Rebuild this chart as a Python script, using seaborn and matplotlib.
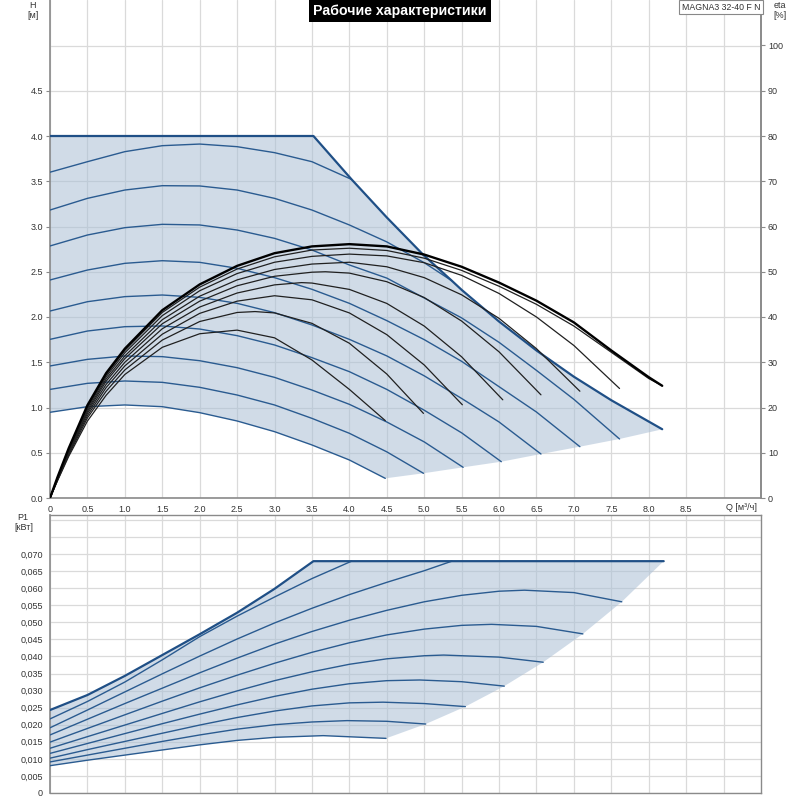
import matplotlib
matplotlib.use("Agg")
import matplotlib.pyplot as plt
import seaborn as sns
import numpy as np

sns.set_style("white")
plt.rcParams['font.family'] = ['Liberation Sans', 'DejaVu Sans']

# ---------------- data: H(Q) curves [m] ----------------
q_max = [0, 3.52, 4.03, 4.5, 4.99, 5.37, 5.5, 6.0, 6.5, 7.0, 7.5, 8.18]
h_max = [4.0, 4.0, 3.52, 3.10, 2.685, 2.40, 2.30, 1.95, 1.63, 1.34, 1.08, 0.76]

q_a = [0, 0.5, 1, 1.5, 2, 2.5, 3, 3.5, 4.03]
h_a = [3.60, 3.716, 3.827, 3.893, 3.911, 3.882, 3.816, 3.716, 3.52]
q_b = [0, 0.5, 1, 1.5, 2, 2.5, 3, 3.5, 4, 4.5, 5, 5.37]
h_b = [3.182, 3.311, 3.403, 3.451, 3.448, 3.403, 3.311, 3.182, 3.017, 2.83, 2.60, 2.40]
q_c = [0, 0.5, 1, 1.5, 2, 2.5, 3, 3.5, 4, 4.5, 5, 5.5, 6, 6.5, 7, 7.61]
h_c = [2.785, 2.906, 2.987, 3.024, 3.017, 2.961, 2.869, 2.74, 2.575, 2.43, 2.21, 1.99, 1.72, 1.41, 1.09, 0.652]
q_d = [0, 0.5, 1, 1.5, 2, 2.5, 3, 3.5, 4, 4.5, 5, 5.5, 6, 6.5, 7.08]
h_d = [2.409, 2.519, 2.593, 2.622, 2.604, 2.538, 2.435, 2.306, 2.151, 1.96, 1.75, 1.51, 1.23, 0.95, 0.567]
q_e = [0, 0.5, 1, 1.5, 2, 2.5, 3, 3.5, 4, 4.5, 5, 5.5, 6, 6.56]
h_e = [2.066, 2.169, 2.225, 2.243, 2.217, 2.151, 2.048, 1.912, 1.753, 1.57, 1.35, 1.10, 0.84, 0.486]
q_f = [0, 0.5, 1, 1.5, 2, 2.5, 3, 3.5, 4, 4.5, 5, 5.5, 6.03]
h_f = [1.753, 1.845, 1.893, 1.901, 1.867, 1.794, 1.691, 1.551, 1.396, 1.20, 0.97, 0.72, 0.401]
q_g = [0, 0.5, 1, 1.5, 2, 2.5, 3, 3.5, 4, 4.5, 5, 5.52]
h_g = [1.459, 1.532, 1.569, 1.562, 1.517, 1.44, 1.333, 1.193, 1.035, 0.84, 0.62, 0.339]
q_h = [0, 0.5, 1, 1.5, 2, 2.5, 3, 3.5, 4, 4.5, 4.99]
h_h = [1.20, 1.267, 1.293, 1.278, 1.223, 1.138, 1.028, 0.88, 0.715, 0.51, 0.273]
q_i = [0, 0.5, 1, 1.5, 2, 2.5, 3, 3.5, 4, 4.48]
h_i = [0.947, 1.009, 1.028, 1.009, 0.943, 0.851, 0.733, 0.586, 0.42, 0.217]

# lower edge of operating area (curve end points)
q_low = [8.18, 7.61, 7.08, 6.56, 6.03, 5.52, 4.99, 4.48]
h_low = [0.759, 0.652, 0.567, 0.486, 0.401, 0.339, 0.273, 0.217]

# ---------------- data: eta(Q) curves [%] ----------------
qe_max = [0, 0.1, 0.25, 0.5, 0.75, 1, 1.5, 2, 2.5, 3, 3.5, 4, 4.5, 5, 5.5, 6, 6.5, 7, 7.5, 8, 8.18]
e_max = [0, 4.6, 11.0, 20.5, 27.6, 33.0, 41.5, 47.2, 51.3, 54.1, 55.6, 56.1, 55.6, 53.8, 51.1, 47.6, 43.6, 38.8, 32.6, 26.7, 24.8]
qe_b = [0, 0.1, 0.25, 0.5, 0.75, 1, 1.5, 2, 2.5, 3, 3.5, 4, 4.5, 5, 5.5, 6, 6.5, 7, 7.5, 8, 8.18]
e_b = [0, 4.5, 10.8, 20.2, 27.2, 32.6, 41.0, 46.6, 50.6, 53.3, 54.8, 55.2, 54.7, 53.0, 50.3, 46.8, 42.8, 38.0, 32.2, 26.4, 24.8]
qe_c = [0, 0.1, 0.25, 0.5, 0.75, 1, 1.5, 2, 2.5, 3, 3.5, 4, 4.5, 5, 5.5, 6, 6.5, 7, 7.61]
e_c = [0, 4.4, 10.6, 19.9, 26.8, 32.1, 40.3, 45.8, 49.6, 52.1, 53.4, 53.9, 53.5, 52.0, 49.2, 45.2, 40.0, 33.7, 24.2]
qe_d = [0, 0.1, 0.25, 0.5, 0.75, 1, 1.5, 2, 2.5, 3, 3.5, 4, 4.5, 5, 5.5, 6, 6.5, 7.08]
e_d = [0, 4.3, 10.4, 19.5, 26.3, 31.4, 39.4, 44.6, 48.2, 50.5, 51.7, 52.1, 51.1, 48.7, 44.9, 39.7, 33.0, 23.6]
qe_e = [0, 0.1, 0.25, 0.5, 0.75, 1, 1.5, 2, 2.5, 3, 3.5, 3.68, 4, 4.5, 5, 5.5, 6, 6.56]
e_e = [0, 4.2, 10.2, 19.1, 25.8, 30.8, 38.5, 43.5, 46.9, 49.0, 49.9, 50.0, 49.7, 47.8, 44.3, 39.1, 32.3, 22.8]
qe_f = [0, 0.1, 0.25, 0.5, 0.75, 1, 1.5, 2, 2.5, 3, 3.36, 3.5, 4, 4.5, 5, 5.5, 6.05]
e_f = [0, 4.1, 10.0, 18.7, 25.1, 30.0, 37.4, 42.2, 45.3, 47.1, 47.6, 47.5, 46.1, 43.0, 38.0, 31.2, 21.7]
qe_g = [0, 0.1, 0.25, 0.5, 0.75, 1, 1.5, 2, 2.5, 3, 3.5, 4, 4.5, 5, 5.51]
e_g = [0, 4.0, 9.8, 18.2, 24.4, 29.2, 36.2, 40.8, 43.5, 44.7, 43.8, 40.9, 36.1, 29.4, 20.6]
qe_h = [0, 0.1, 0.25, 0.5, 0.75, 1, 1.5, 2, 2.5, 2.74, 3, 3.5, 4, 4.5, 4.99]
e_h = [0, 3.9, 9.5, 17.7, 23.6, 28.3, 34.9, 39.0, 41.0, 41.2, 40.9, 38.6, 34.2, 27.4, 18.7]
qe_i = [0, 0.1, 0.25, 0.5, 0.75, 1, 1.5, 2, 2.5, 3, 3.5, 4, 4.48]
e_i = [0, 3.8, 9.2, 17.0, 22.7, 27.3, 33.3, 36.3, 37.1, 35.4, 30.5, 24.0, 17.1]

# ---------------- data: P1(Q) curves [kW] ----------------
qp_max = [0, 0.5, 1, 1.5, 2, 2.5, 3, 3.52, 8.2]
p_max = [0.0243, 0.0287, 0.0343, 0.0404, 0.0465, 0.0528, 0.0598, 0.0679, 0.0679]
qp_a = [0, 0.5, 1, 1.5, 2, 2.5, 3, 3.5, 4.03]
p_a = [0.0217, 0.0268, 0.0325, 0.0390, 0.0458, 0.0518, 0.0574, 0.0628, 0.0679]
qp_b = [0, 0.5, 1, 1.5, 2, 2.5, 3, 3.5, 4, 4.5, 5, 5.37]
p_b = [0.0191, 0.0243, 0.0296, 0.0349, 0.0401, 0.0451, 0.0498, 0.0541, 0.0581, 0.0617, 0.0651, 0.0679]
qp_c = [0, 0.5, 1, 1.5, 2, 2.5, 3, 3.5, 4, 4.5, 5, 5.5, 6, 6.34, 7, 7.64]
p_c = [0.0170, 0.0216, 0.0262, 0.0307, 0.0352, 0.0395, 0.0436, 0.0473, 0.0506, 0.0535, 0.0560, 0.0579, 0.0591, 0.0594, 0.0587, 0.0560]
qp_d = [0, 0.5, 1, 1.5, 2, 2.5, 3, 3.5, 4, 4.5, 5, 5.5, 5.9, 6.5, 7.12]
p_d = [0.0149, 0.0189, 0.0229, 0.0269, 0.0308, 0.0345, 0.0380, 0.0412, 0.0440, 0.0463, 0.0480, 0.0491, 0.0494, 0.0488, 0.0466]
qp_e = [0, 0.5, 1, 1.5, 2, 2.5, 3, 3.5, 4, 4.5, 5, 5.26, 6, 6.59]
p_e = [0.0131, 0.0165, 0.0199, 0.0233, 0.0267, 0.0299, 0.0329, 0.0355, 0.0377, 0.0393, 0.0402, 0.0404, 0.0398, 0.0383]
qp_f = [0, 0.5, 1, 1.5, 2, 2.5, 3, 3.5, 4, 4.5, 4.94, 5.5, 6.07]
p_f = [0.0116, 0.0145, 0.0174, 0.0203, 0.0231, 0.0258, 0.0283, 0.0304, 0.0320, 0.0329, 0.0331, 0.0326, 0.0313]
qp_g = [0, 0.5, 1, 1.5, 2, 2.5, 3, 3.5, 4, 4.45, 5, 5.55]
p_g = [0.0102, 0.0127, 0.0151, 0.0175, 0.0199, 0.0221, 0.0240, 0.0255, 0.0264, 0.0266, 0.0262, 0.0253]
qp_h = [0, 0.5, 1, 1.5, 2, 2.5, 3, 3.5, 3.97, 4.5, 5.02]
p_h = [0.0091, 0.0111, 0.0131, 0.0151, 0.0170, 0.0187, 0.0200, 0.0208, 0.0212, 0.0210, 0.0202]
qp_i = [0, 0.5, 1, 1.5, 2, 2.5, 3, 3.65, 4.49]
p_i = [0.0080, 0.0096, 0.0111, 0.0126, 0.0141, 0.0154, 0.0163, 0.0168, 0.0160]

qp_low = [8.2, 7.64, 7.12, 6.59, 6.07, 5.55, 5.02, 4.49]
pp_low = [0.0679, 0.0560, 0.0466, 0.0383, 0.0313, 0.0253, 0.0202, 0.0160]

h_ticks = [0.0, 0.5, 1.0, 1.5, 2.0, 2.5, 3.0, 3.5, 4.0, 4.5]
eta_ticks = [0, 10, 20, 30, 40, 50, 60, 70, 80, 90, 100]
q_ticks = [0, 0.5, 1.0, 1.5, 2.0, 2.5, 3.0, 3.5, 4.0, 4.5, 5.0, 5.5, 6.0, 6.5, 7.0, 7.5, 8.0, 8.5]
p_ticks = [0, 0.005, 0.010, 0.015, 0.020, 0.025, 0.030, 0.035, 0.040, 0.045, 0.050, 0.055, 0.060, 0.065, 0.070]

# ---------------- styles ----------------
BLUE = '#2a5b90'
FILL = '#aabfd5'
GRID = '#dadada'
SPINE = '#8a8a8a'
TXT = '#333333'
FS = 6.5

fig = plt.figure(figsize=(8, 8), dpi=100)
L, W = 50/800, 711/800
ax1 = fig.add_axes([L, 1-498/800, W, 498/800])
ax3 = fig.add_axes([L, 7/800, W, 278/800])

XMAX = 9.5
HMAX = 498/90.5
PMAX = (793-515)/239*0.07

# ----- top panel -----
ax1.set_xlim(0, XMAX)
ax1.set_ylim(0, HMAX)
ax1.set_axisbelow(True)
ax1.set_xticks(q_ticks)
ax1.set_xticklabels(["0"] + [f"{v:.1f}" for v in q_ticks[1:]])
ax1.set_yticks(h_ticks)
ax1.set_yticklabels([f"{v:.1f}" for v in h_ticks])
ax1.grid(True, color=GRID, lw=0.9)
ax1.axhline(5.0, color=GRID, lw=0.9, zorder=0)
ax1.axvline(9.0, color=GRID, lw=0.9, zorder=0)
ax1.spines['top'].set_visible(False)
for s in ['left', 'bottom', 'right']:
    ax1.spines[s].set_color(SPINE)
    ax1.spines[s].set_linewidth(1.2)
ax1.tick_params(axis='both', labelsize=FS, colors=TXT, length=3, width=0.8, pad=2, color=SPINE)
ax1.tick_params(axis='x', pad=3, length=2)

poly_q = q_max + q_low + q_i[::-1]
poly_h = h_max + h_low + h_i[::-1]
ax1.fill(poly_q, poly_h, color=FILL, alpha=0.55, lw=0, zorder=1)

for q, h in [(q_a, h_a), (q_b, h_b), (q_c, h_c), (q_d, h_d), (q_e, h_e),
             (q_f, h_f), (q_g, h_g), (q_h, h_h), (q_i, h_i)]:
    sns.lineplot(x=q, y=h, ax=ax1, color=BLUE, lw=1.0, sort=False, estimator=None, zorder=3)
sns.lineplot(x=q_max, y=h_max, ax=ax1, color='#1f4f86', lw=1.6, sort=False, estimator=None, zorder=4)
ax1.set_xlabel("")
ax1.set_ylabel("")

ax2 = ax1.twinx()
ax2.set_ylim(0, HMAX*20)
ax2.set_yticks(eta_ticks)
ax2.set_yticklabels([str(v) for v in eta_ticks])
ax2.tick_params(axis='y', labelsize=FS, colors=TXT, length=3, width=0.8, pad=2, color=SPINE)
for s in ['top', 'left', 'bottom']:
    ax2.spines[s].set_visible(False)
ax2.spines['right'].set_color(SPINE)
ax2.spines['right'].set_linewidth(1.2)
for q, e in [(qe_b, e_b), (qe_c, e_c), (qe_d, e_d), (qe_e, e_e), (qe_f, e_f),
             (qe_g, e_g), (qe_h, e_h), (qe_i, e_i)]:
    sns.lineplot(x=q, y=e, ax=ax2, color='#202020', lw=0.9, sort=False, estimator=None)
sns.lineplot(x=qe_max, y=e_max, ax=ax2, color='black', lw=1.7, sort=False, estimator=None)
ax2.set_ylabel("")

# ----- bottom panel -----
ax3.set_xlim(0, XMAX)
ax3.set_ylim(0, PMAX)
ax3.set_axisbelow(True)
ax3.set_xticks(np.arange(0, 9.01, 0.5))
ax3.set_xticklabels([])
ax3.set_yticks(np.arange(0, 0.0801, 0.005))
ax3.set_yticklabels(["0"] + [f"{v:.3f}".replace('.', ',') for v in p_ticks[1:]] + ["", ""])
ax3.grid(True, color=GRID, lw=0.9)
for s in ax3.spines.values():
    s.set_color(SPINE)
    s.set_linewidth(1.0)
ax3.spines['left'].set_linewidth(1.2)
ax3.tick_params(axis='y', labelsize=FS, colors=TXT, length=3, width=0.8, pad=2, color=SPINE)
ax3.tick_params(axis='x', length=0)

ppoly_q = qp_max + qp_low + qp_i[::-1]
ppoly_p = p_max + pp_low + p_i[::-1]
ax3.fill(ppoly_q, ppoly_p, color=FILL, alpha=0.55, lw=0, zorder=1)
for q, p in [(qp_a, p_a), (qp_b, p_b), (qp_c, p_c), (qp_d, p_d), (qp_e, p_e),
             (qp_f, p_f), (qp_g, p_g), (qp_h, p_h), (qp_i, p_i)]:
    sns.lineplot(x=q, y=p, ax=ax3, color=BLUE, lw=1.0, sort=False, estimator=None, zorder=3)
sns.lineplot(x=qp_max, y=p_max, ax=ax3, color='#1f4f86', lw=1.6, sort=False, estimator=None, zorder=4)
ax3.set_xlabel("")
ax3.set_ylabel("")

# ----- texts -----
fig.text(33/800, 1-5/800, "H", ha='center', va='center', fontsize=FS, color=TXT)
fig.text(33/800, 1-15/800, "[м]", ha='center', va='center', fontsize=FS, color=TXT)
fig.text(780/800, 1-5/800, "eta", ha='center', va='center', fontsize=FS, color=TXT)
fig.text(780/800, 1-15/800, "[%]", ha='center', va='center', fontsize=FS, color=TXT)
fig.text(23/800, 1-518/800, "P1", ha='center', va='center', fontsize=FS, color=TXT)
fig.text(24/800, 1-528/800, "[кВт]", ha='center', va='center', fontsize=FS, color=TXT)
fig.text(757/800, 1-508/800, "Q [м³/ч]", ha='right', va='center', fontsize=FS, color=TXT)
fig.text(400/800, 1-11/800, "Рабочие характеристики", ha='center', va='center', fontsize=10.2,
         fontweight='bold', color='white',
         bbox=dict(facecolor='black', edgecolor='none', boxstyle='square,pad=0.3'))
fig.text(721/800, 1-7/800, "MAGNA3 32-40 F N", ha='center', va='center', fontsize=6.3, color=TXT,
         bbox=dict(facecolor='white', edgecolor='#888888', lw=0.8, boxstyle='square,pad=0.3'))

fig.savefig("out.png", dpi=100)
